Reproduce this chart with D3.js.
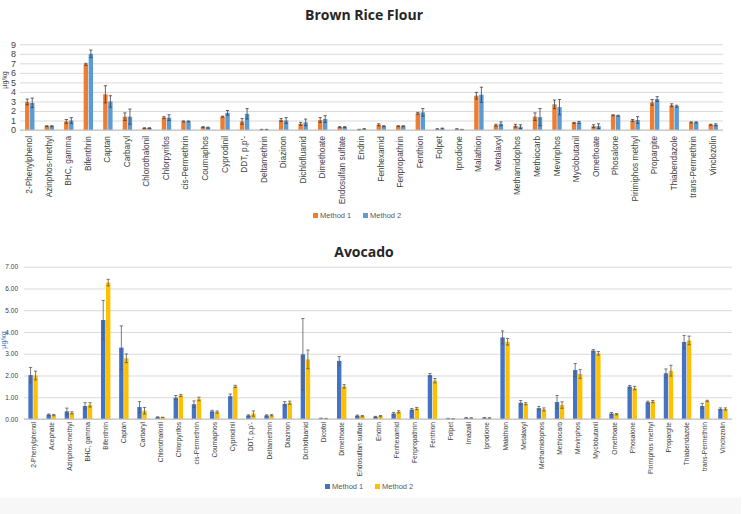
<!DOCTYPE html>
<html>
<head>
<meta charset="utf-8">
<script src="https://cdn.jsdelivr.net/npm/d3@7"></script>
<style>
  body { margin: 0; background: #fff; }
  text { font-family: "Liberation Sans", Arial, sans-serif; }
</style>
</head>
<body>
<div id="chart"></div>
<script>
/* brown rice flour data */
var riceCats = ["2-Phenylphenol", "Azinphos-methyl", "BHC, gamma", "Bifenthrin", "Captan", "Carbaryl",
  "Chlorothalonil", "Chlorpyrifos", "cis-Permethrin", "Coumaphos", "Cyprodinil", "DDT, p,p'-",
  "Deltamethrin", "Diazinon", "Dichlofluanid", "Dimethoate", "Endosulfan sulfate", "Endrin",
  "Fenhexamid", "Fenpropathrin", "Fenthion", "Folpet", "Iprodione", "Malathion", "Metalaxyl",
  "Methamidophos", "Methiocarb", "Mevinphos", "Myclobutanil", "Omethoate", "Phosalone",
  "Pirimiphos methyl", "Propargite", "Thiabendazole", "trans-Permethrin", "Vinclozolin"];
var riceM1 = [2.95, 0.4, 0.9, 6.9, 3.75, 1.4, 0.2, 1.3, 0.9, 0.3, 1.4, 0.9,
  0.05, 1.05, 0.65, 1.05, 0.3, 0.05, 0.55, 0.4, 1.75, 0.1, 0.1, 3.6, 0.5,
  0.45, 1.4, 2.7, 0.75, 0.4, 1.55, 1.0, 2.9, 2.6, 0.8, 0.55];
var riceM2 = [2.85, 0.4, 1.0, 8.0, 3.0, 1.4, 0.2, 1.3, 0.9, 0.25, 1.8, 1.7,
  0.05, 1.0, 0.8, 1.15, 0.3, 0.1, 0.4, 0.4, 1.85, 0.15, 0.05, 3.7, 0.65,
  0.35, 1.35, 2.4, 0.8, 0.4, 1.5, 1.05, 3.25, 2.5, 0.8, 0.55];
var riceE1 = [0.3, 0.05, 0.2, 0.1, 0.9, 0.4, 0.03, 0.1, 0.05, 0.05, 0.05, 0.3,
  0.02, 0.15, 0.15, 0.25, 0.05, 0.02, 0.1, 0.05, 0.1, 0.03, 0.03, 0.35, 0.1,
  0.15, 0.4, 0.45, 0.05, 0.15, 0.05, 0.1, 0.3, 0.15, 0.05, 0.05];
var riceE2 = [0.5, 0.05, 0.3, 0.4, 0.6, 0.8, 0.03, 0.3, 0.05, 0.05, 0.25, 0.55,
  0.02, 0.3, 0.35, 0.35, 0.05, 0.05, 0.05, 0.05, 0.4, 0.05, 0.02, 0.8, 0.2,
  0.2, 0.9, 0.8, 0.1, 0.25, 0.05, 0.35, 0.25, 0.1, 0.05, 0.1];
var riceTicks = [0, 1, 2, 3, 4, 5, 6, 7, 8, 9];

/* avocado data */
var avoCats = ["2-Phenylphenol", "Acephate", "Azinphos-methyl", "BHC, gamma", "Bifenthrin", "Captan",
  "Carbaryl", "Chlorothalonil", "Chlorpyrifos", "cis-Permethrin", "Coumaphos", "Cyprodinil",
  "DDT, p,p'-", "Deltamethrin", "Diazinon", "Dichlofluanid", "Dicofol", "Dimethoate",
  "Endosulfan sulfate", "Endrin", "Fenhexamid", "Fenpropathrin", "Fenthion", "Folpet", "Imazalil",
  "Iprodione", "Malathion", "Metalaxyl", "Methamidophos", "Methiocarb", "Mevinphos",
  "Myclobutanil", "Omethoate", "Phosalone", "Pirimiphos methyl", "Propargite", "Thiabendazole",
  "trans-Permethrin", "Vinclozolin"];
var avoM1 = [2.02, 0.2, 0.35, 0.6, 4.55, 3.28, 0.55, 0.08, 0.98, 0.68, 0.35, 1.05,
  0.16, 0.16, 0.7, 2.97, 0.03, 2.67, 0.15, 0.1, 0.25, 0.43, 2.02, 0.02, 0.05,
  0.05, 3.75, 0.75, 0.5, 0.78, 2.25, 3.14, 0.25, 1.49, 0.77, 2.1, 3.54, 0.6, 0.46];
var avoM2 = [2.0, 0.18, 0.28, 0.65, 6.27, 2.79, 0.38, 0.07, 1.08, 0.92, 0.32, 1.5,
  0.25, 0.17, 0.75, 2.74, 0.02, 1.5, 0.13, 0.13, 0.33, 0.48, 1.76, 0.01, 0.04,
  0.04, 3.55, 0.7, 0.44, 0.64, 2.07, 3.02, 0.22, 1.42, 0.8, 2.22, 3.61, 0.83, 0.46];
var avoE1 = [0.35, 0.03, 0.15, 0.15, 0.9, 1.0, 0.25, 0.02, 0.1, 0.15, 0.05, 0.1,
  0.03, 0.03, 0.1, 1.65, 0.01, 0.2, 0.03, 0.02, 0.05, 0.05, 0.07, 0.01, 0.02,
  0.02, 0.3, 0.1, 0.08, 0.3, 0.3, 0.05, 0.05, 0.05, 0.05, 0.2, 0.3, 0.12, 0.05];
var avoE2 = [0.2, 0.03, 0.05, 0.1, 0.15, 0.2, 0.15, 0.01, 0.05, 0.08, 0.05, 0.05,
  0.12, 0.03, 0.07, 0.43, 0.01, 0.08, 0.03, 0.03, 0.05, 0.05, 0.1, 0.01, 0.02,
  0.02, 0.15, 0.05, 0.07, 0.15, 0.2, 0.08, 0.03, 0.08, 0.05, 0.25, 0.2, 0.03, 0.05];
var avoTicks = [0, 1, 2, 3, 4, 5, 6, 7];

var svg = d3.select("#chart")
	.append("svg")
	.attr("width", 743)
	.attr("height", 514);

/* light strip at the bottom */
svg.append("rect")
	.attr("x", 0).attr("y", 498)
	.attr("width", 741).attr("height", 16)
	.style("fill", "#f7f7f7");

function drawChart(opt) {
	var g = svg.append("g");

	var x = d3.scaleBand().domain(opt.cats).range([opt.left, opt.right]);
	var y = d3.scaleLinear().domain([0, opt.max]).range([opt.bottom, opt.top]);
	var inner = d3.scaleBand().domain([0, 1]).range([0, opt.groupW]);
	var off = (x.bandwidth() - opt.groupW) / 2;

	// title
	g.append("text")
		.attr("x", opt.titleX).attr("y", opt.titleY)
		.attr("text-anchor", "middle")
		.style("font-family", "'Open Sans', sans-serif")
		.style("font-weight", "bold")
		.style("font-size", "14px")
		.style("fill", "#262626")
		.text(opt.title);

	// grid + y labels
	var yAxis = d3.axisLeft(y)
		.tickValues(opt.ticks)
		.tickSize(-(opt.right - opt.left))
		.tickPadding(opt.tickPad)
		.tickFormat(d3.format(opt.fmt));
	var ya = g.append("g")
		.attr("transform", "translate(" + opt.left + ",0)")
		.call(yAxis);
	ya.select(".domain").remove();
	ya.selectAll(".tick line").style("stroke", "#d9d9d9");
	ya.selectAll(".tick text")
		.style("font-size", opt.tickFont)
		.style("fill", opt.tickColor)
		.style("font-family", "'Liberation Sans', Arial, sans-serif");

	// axis title
	g.append("text")
		.attr("transform", "translate(" + opt.yTitleX + "," + opt.yTitleY + ") rotate(-90)")
		.attr("text-anchor", "middle")
		.style("font-size", "7px")
		.style("fill", opt.yTitleColor)
		.text("µg/kg");

	// bars
	var series = [opt.m1, opt.m2];
	var errs = [opt.e1, opt.e2];
	series.forEach(function(vals, s) {
		g.selectAll(".bar" + s)
			.data(opt.cats)
			.enter()
			.append("rect")
			.attr("x", function(d) { return x(d) + off + inner(s) + 0.3; })
			.attr("y", function(d, i) { return y(vals[i]); })
			.attr("width", inner.bandwidth() - 0.6)
			.attr("height", function(d, i) { return opt.bottom - y(vals[i]); })
			.style("fill", opt.colors[s]);
	});

	// error bars
	series.forEach(function(vals, s) {
		var cx = function(d) { return x(d) + off + inner(s) + inner.bandwidth() / 2; };
		var lo = function(d, i) { return y(Math.max(0, vals[i] - errs[s][i])); };
		var hi = function(d, i) { return y(vals[i] + errs[s][i]); };
		var eg = g.append("g").style("stroke", opt.errColor).style("stroke-width", 0.8);
		eg.selectAll("line.v")
			.data(opt.cats)
			.enter()
			.append("line")
			.attr("x1", cx).attr("x2", cx)
			.attr("y1", lo)
			.attr("y2", hi);
		[lo, hi].forEach(function(fy) {
			eg.append("g").selectAll("line")
				.data(opt.cats)
				.enter()
				.append("line")
				.attr("x1", function(d) { return cx(d) - 1.6; })
				.attr("x2", function(d) { return cx(d) + 1.6; })
				.attr("y1", fy)
				.attr("y2", fy);
		});
	});

	// baseline
	g.append("line")
		.attr("x1", opt.left).attr("x2", opt.right)
		.attr("y1", opt.bottom).attr("y2", opt.bottom)
		.style("stroke", "#bfbfbf");

	// category labels
	g.selectAll(".cat")
		.data(opt.cats)
		.enter()
		.append("text")
		.attr("transform", function(d) {
			return "translate(" + (x(d) + x.bandwidth() / 2 + 2.5) + "," + (opt.bottom + opt.catGap) + ") rotate(-90)";
		})
		.attr("text-anchor", "end")
		.style("font-size", opt.catFont)
		.style("fill", "#404040")
		.text(function(d) { return d; });

	// legend
	var lg = g.append("g").attr("transform", "translate(" + opt.legX + "," + opt.legY + ")");
	["Method 1", "Method 2"].forEach(function(name, s) {
		lg.append("rect")
			.attr("x", s * 50).attr("y", -5)
			.attr("width", 5).attr("height", 5)
			.style("fill", opt.colors[s]);
		lg.append("text")
			.attr("x", s * 50 + 7).attr("y", 0)
			.style("font-size", "7.5px")
			.style("fill", "#595959")
			.text(name);
	});
}

drawChart({
	title: "Brown Rice Flour", titleX: 364, titleY: 20,
	cats: riceCats, m1: riceM1, m2: riceM2, e1: riceE1, e2: riceE2,
	ticks: riceTicks, max: 9, fmt: "d",
	left: 20, right: 723, top: 44.3, bottom: 130, groupW: 10,
	tickPad: 4, tickFont: "9px", tickColor: "#404040",
	yTitleX: 7, yTitleY: 80, yTitleColor: "#404040",
	colors: ["#ED7D31", "#5B9BD5"], errColor: "#404040",
	catFont: "8.3px", catGap: 6, legX: 313, legY: 218
});

drawChart({
	title: "Avocado", titleX: 364, titleY: 257,
	cats: avoCats, m1: avoM1, m2: avoM2, e1: avoE1, e2: avoE2,
	ticks: avoTicks, max: 7, fmt: ".2f",
	left: 24, right: 732, top: 266.7, bottom: 419, groupW: 10,
	tickPad: 6, tickFont: "6.5px", tickColor: "#404040",
	yTitleX: 6, yTitleY: 340, yTitleColor: "#4472C4",
	colors: ["#4472C4", "#FFC000"], errColor: "#595959",
	catFont: "6.6px", catGap: 3, legX: 325, legY: 489
});
</script>
</body>
</html>
